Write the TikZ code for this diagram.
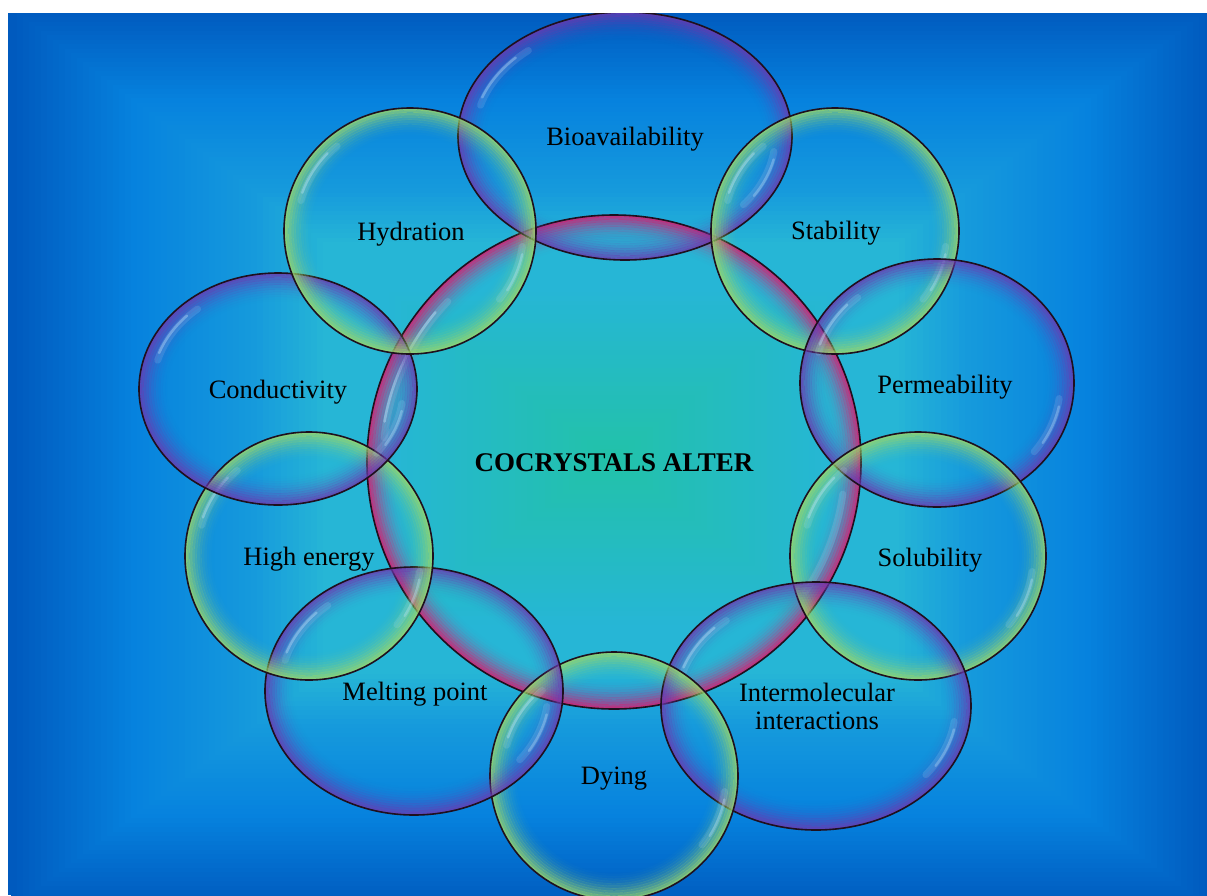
\documentclass[tikz,border=0pt]{standalone}
\usepackage{fontspec}
\setmainfont{Liberation Serif}

\definecolor{purplerim}{RGB}{108,56,176}
\definecolor{greenrim}{RGB}{156,216,104}
\definecolor{pinkrim}{RGB}{214,30,112}
\definecolor{bubbleline}{RGB}{30,16,30}
\definecolor{glintcol}{RGB}{200,235,255}
% 背景颜色 (从外到内)
\definecolor{bgdark}{RGB}{0,90,190}
\definecolor{bgblue}{RGB}{6,130,222}
\definecolor{bgsky}{RGB}{22,154,220}
\definecolor{bgcyan}{RGB}{38,182,214}
\definecolor{bgteal}{RGB}{34,194,168}

\begin{document}
\begin{tikzpicture}[x=1pt, y=-1pt,
  bubbleedge/.style={draw=bubbleline, line width=1.6pt},
  glint/.style={glintcol, line cap=round},
  bubbletext/.style={font=\fontsize{26.5}{28}\selectfont, align=center, text=black}]
  % 1. 背景 (矩形渐变, 中心 611/458)
  \useasboundingbox (0,0) rectangle (1207,895);
  \fill[white] (0,0) rectangle (1207,895);
  \clip (8,13) rectangle (1207,895);
  \fill[bgdark] (8,13) rectangle (1207,895);
  \foreach \k in {100,...,81}{
    \pgfmathsetmacro\p{(100-\k)*5}
    \fill[bgblue!\p!bgdark] ({611-6*\k},{458-4.5*\k}) rectangle ({611+6*\k},{458+4.5*\k});
  }
  \foreach \k in {80,...,61}{
    \pgfmathsetmacro\p{(80-\k)*5}
    \fill[bgsky!\p!bgblue] ({611-6*\k},{458-4.5*\k}) rectangle ({611+6*\k},{458+4.5*\k});
  }
  \foreach \k in {60,...,49}{
    \pgfmathsetmacro\p{(60-\k)*100/12}
    \fill[bgcyan!\p!bgsky] ({611-6*\k},{458-4.5*\k}) rectangle ({611+6*\k},{458+4.5*\k});
  }
  \fill[bgcyan] ({611-6*48},{458-4.5*48}) rectangle ({611+6*48},{458+4.5*48});
  \foreach \k in {38,...,1}{
    \pgfmathsetmacro\p{(38-\k)*100/38}
    \fill[bgteal!\p!bgcyan] ({611-6*\k},{458-4.5*\k}) rectangle ({611+6*\k},{458+4.5*\k});
  }

  % 2. 中心圆 (r = 247)
  \foreach \k in {0,...,11}{
    \pgfmathsetmacro\op{0.85*(1-\k/12)^2}
    \draw[pinkrim, line width=2.6pt, opacity=\op] (614,462) circle [radius={246-2.4*\k}];
  }
  \draw[glint, line width=7pt, opacity=.15] (614,462) ++(186:231) arc [start angle=186, end angle=224, radius=231];
  \draw[glint, line width=2.5pt, opacity=.4] (614,462) ++(190:233) arc [start angle=190, end angle=220, radius=233];
  \draw[glint, line width=7pt, opacity=.15] (614,462) ++(8:231) arc [start angle=8, end angle=34, radius=231];
  \draw[bubbleedge] (614,462) circle [radius=247];

  % 3. 外圈气泡: 中心x/中心y/横半径/纵半径/边缘颜色
  \foreach \cx/\cy/\rx/\ry/\rim in {
      625/136/167/124/purplerim,
      835/231/124/123/greenrim,
      937/383/137/124/purplerim,
      918/556/128/124/greenrim,
      816/706/155/124/purplerim,
      614/776/124/124/greenrim,
      414/691/149/124/purplerim,
      309/556/124/124/greenrim,
      278/389/139/116/purplerim,
      410/231/126/123/greenrim}{
    \foreach \k in {0,...,11}{
      \pgfmathsetmacro\op{0.8*(1-\k/12)^2}
      \draw[\rim, line width=2.6pt, opacity=\op] (\cx,\cy)
        ellipse [x radius={\rx-1-2.4*\k}, y radius={\ry-1-2.4*\k}];
    }
    \draw[glint, line width=7pt, opacity=.14] (\cx,\cy) ++(196:{0.9*\rx} and {0.9*\ry})
      arc [start angle=196, end angle=230, x radius={0.9*\rx}, y radius={0.9*\ry}];
    \draw[glint, line width=2.5pt, opacity=.35] (\cx,\cy) ++(200:{0.91*\rx} and {0.91*\ry})
      arc [start angle=200, end angle=224, x radius={0.91*\rx}, y radius={0.91*\ry}];
    \draw[glint, line width=7pt, opacity=.14] (\cx,\cy) ++(8:{0.9*\rx} and {0.9*\ry})
      arc [start angle=8, end angle=38, x radius={0.9*\rx}, y radius={0.9*\ry}];
    \draw[glint, line width=2.5pt, opacity=.3] (\cx,\cy) ++(12:{0.91*\rx} and {0.91*\ry})
      arc [start angle=12, end angle=32, x radius={0.91*\rx}, y radius={0.91*\ry}];
    \draw[bubbleedge] (\cx,\cy) ellipse [x radius=\rx, y radius=\ry];
  }

  % 4. 文字
  \node[bubbletext, font=\fontsize{27}{29}\selectfont\bfseries] (core) at (614,463) {COCRYSTALS ALTER};
  \node[bubbletext] (bio) at (625,139) {Bioavailability};
  \node[bubbletext] (stab) at (836,233) {Stability};
  \node[bubbletext] (perm) at (945,387) {Permeability};
  \node[bubbletext] (solu) at (930,560) {Solubility};
  \node[bubbletext] (inter) at (817,706) {Intermolecular\\interactions};
  \node[bubbletext] (dying) at (614,779) {Dying};
  \node[bubbletext] (melt) at (415,694) {Melting point};
  \node[bubbletext] (energy) at (309,559) {High energy};
  \node[bubbletext] (cond) at (278,392) {Conductivity};
  \node[bubbletext] (hydr) at (411,234) {Hydration};
\end{tikzpicture}
\end{document}
